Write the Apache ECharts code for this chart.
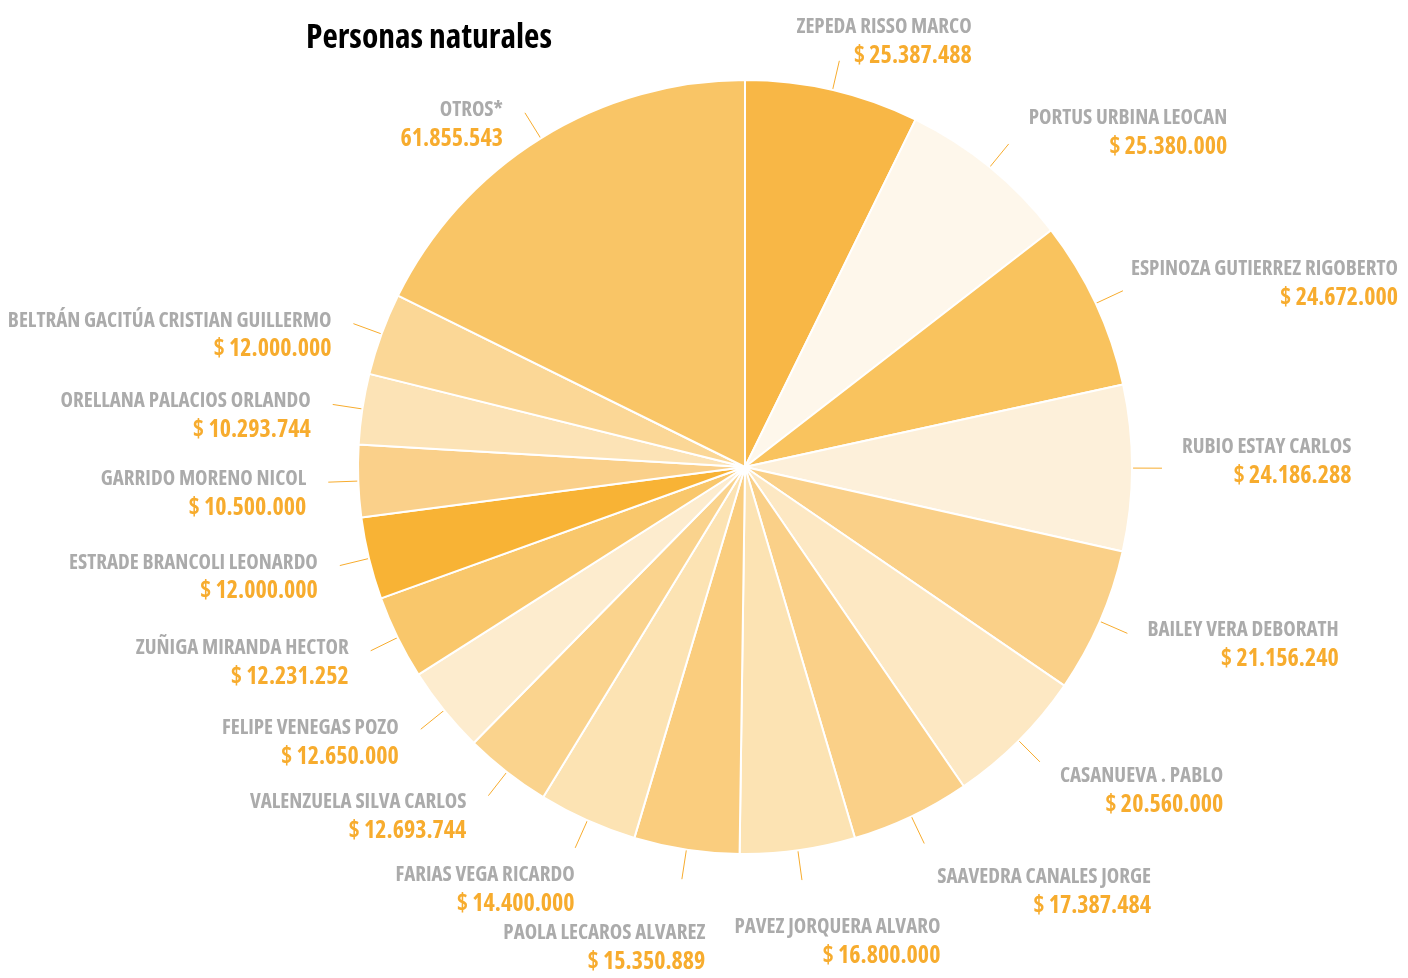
<!DOCTYPE html>
<html>
<head>
<meta charset="utf-8">
<script src="https://cdn.jsdelivr.net/npm/echarts@6/dist/echarts.min.js"></script>
<style>
html,body{margin:0;padding:0;background:#fff;}
#chart{width:1408px;height:978px;}
</style>
</head>
<body>
<div id="chart"></div>
<script>
var names = [
  'ZEPEDA RISSO MARCO','PORTUS URBINA LEOCAN','ESPINOZA GUTIERREZ RIGOBERTO','RUBIO ESTAY CARLOS',
  'BAILEY VERA DEBORATH','CASANUEVA . PABLO','SAAVEDRA CANALES JORGE','PAVEZ JORQUERA ALVARO',
  'PAOLA LECAROS ALVAREZ','FARIAS VEGA RICARDO','VALENZUELA SILVA CARLOS','FELIPE VENEGAS POZO',
  'ZUÑIGA MIRANDA HECTOR','ESTRADE BRANCOLI LEONARDO','GARRIDO MORENO NICOL','ORELLANA PALACIOS ORLANDO',
  'BELTRÁN GACITÚA CRISTIAN GUILLERMO','OTROS*'
];
var values = [
  25387488,25380000,24672000,24186288,
  21156240,20560000,17387484,16800000,
  15350889,14400000,12693744,12650000,
  12231252,12000000,10500000,10293744,
  12000000,61855543
];
var prefixes = ['$ ','$ ','$ ','$ ','$ ','$ ','$ ','$ ','$ ','$ ','$ ','$ ','$ ','$ ','$ ','$ ','$ ',''];
var colors = [
  '#F8B746','#FEF7EB','#F9C35E','#FDF0DA',
  '#FAD088','#FDE8C3','#FAD088','#FCE3B3',
  '#FACD7E','#FCE3B3','#FAD38D','#FDECCE',
  '#F9C76B','#F8B335','#FAD08A','#FCE3B6',
  '#FBD796','#F9C566'
];

function fmt(v){
  return String(v).replace(/\B(?=(\d{3})+(?!\d))/g, '.');
}

var data = names.map(function(n,i){
  return {name:n, value:values[i], itemStyle:{color:colors[i]}};
});

var font = '"Open Sans","Roboto",sans-serif';
var CX = 745, CY = 467, R = 387, LL = 30, PAD = 12, W = 1408;

var mctx = document.createElement('canvas').getContext('2d');
function textW(str, size){
  mctx.font = 'condensed bold ' + size + 'px ' + font;
  return mctx.measureText(str).width;
}

function labelShift(end, idx){
  var rel = (end[1]-CY)/(R+LL);
  var xr = end[0]-CX;
  var dx, dy;
  if (xr < 0) {
    dy = 12 + 62*Math.pow(Math.max(0, rel), 8);
    dx = -5 + 55*Math.sqrt(Math.max(0, 1-Math.abs(xr)/200));
  } else {
    dy = rel > 0 ? (-6 + 45*rel + 25*Math.pow(rel, 6)) : (-6 - 14*Math.pow(rel, 4));
    dx = 3 - 125*Math.max(0, 1-Math.abs(xr)/190);
    var wBlock = Math.max(textW(names[idx], 21), textW(prefixes[idx] + fmt(values[idx]), 24));
    var right = end[0] + 5 + PAD + dx + wBlock;
    var over = right - (W - 10);
    if (over > 0) dx -= over;
  }
  return {dx:dx, dy:dy};
}

var chart = echarts.init(document.getElementById('chart'));
chart.setOption({
  animation:false,
  title:{
    text:'Personas naturales',
    left:301, top:16,
    textStyle:{fontFamily:font, fontStyle:'condensed', fontWeight:'bold', fontSize:33.5, color:'#000'}
  },
  series:[{
    type:'pie',
    center:[CX,CY],
    radius:[0,R],
    startAngle:90,
    clockwise:true,
    avoidLabelOverlap:false,
    itemStyle:{borderColor:'#fff', borderWidth:2},
    label:{
      show:true,
      position:'outside',
      padding:[0,PAD],
      formatter:function(p){
        return '{n|'+p.name+'}\n{v|'+prefixes[p.dataIndex]+fmt(p.value)+'}';
      },
      rich:{
        n:{fontFamily:font, fontStyle:'condensed', fontWeight:'bold', fontSize:21, color:'#ABABAB', lineHeight:28, align:'right'},
        v:{fontFamily:font, fontStyle:'condensed', fontWeight:'bold', fontSize:24, color:'#F7AC2E', lineHeight:30, align:'right'}
      }
    },
    labelLine:{
      show:true, length:LL, length2:0,
      lineStyle:{color:'#F7AC2E', width:1}
    },
    labelLayout:function(p){
      var pts = p.labelLinePoints;
      var s = labelShift(pts[pts.length-1], p.dataIndex);
      return {dx:s.dx, dy:s.dy, hideOverlap:false, moveOverlap:null, labelLinePoints:pts};
    },
    data:data
  }]
});
</script>
</body>
</html>
